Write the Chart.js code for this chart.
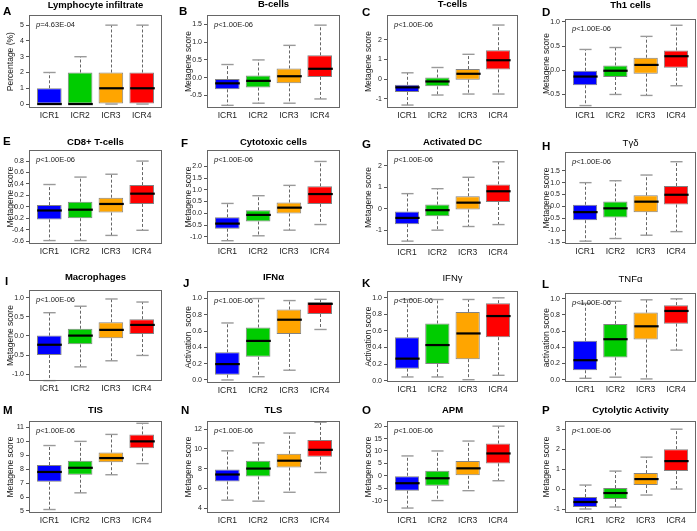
<!DOCTYPE html>
<html>
<head>
<meta charset="utf-8">
<script src="https://cdn.jsdelivr.net/npm/chart.js@4.4.1/dist/chart.umd.min.js"></script>
<style>
  body { margin: 0; background: #fff; font-family: "Liberation Sans", Arial, sans-serif; }
  #page { position: relative; width: 697px; height: 531px; overflow: hidden; }
  canvas { position: absolute; }
  .letter { position: absolute; font-weight: bold; font-size: 11.5px; line-height: 13px; color: #000; }
  .title { position: absolute; text-align: center; font-weight: bold; font-size: 9.5px; line-height: 12px; color: #000; white-space: nowrap; }
  .title.plain { font-weight: normal; }
  .pval { position: absolute; font-size: 7.5px; line-height: 9px; color: #222; white-space: nowrap; }
</style>
</head>
<body>
<div id="page"></div>
<script>
// groups on the x axis
var groups = ['ICR1', 'ICR2', 'ICR3', 'ICR4'];
var boxColors = ['#0000FF', '#00CC00', '#FFA500', '#FF0000'];

// each row: [lower whisker, Q1, median, Q3, upper whisker] for ICR1..ICR4
var lymphocyteInfiltrate = [[0, 0, 0, 1, 2], [0, 0, 0, 2, 3], [0, 0, 1, 2, 5], [0, 0, 1, 2, 5]];
var bCells = [[-0.78, -0.33, -0.16, -0.04, 0.37], [-0.72, -0.28, -0.09, 0.06, 0.5], [-0.72, -0.16, 0.04, 0.26, 0.91], [-0.6, 0.02, 0.25, 0.63, 1.48]];
var tCells = [[-1.32, -0.66, -0.42, -0.29, 0.32], [-0.81, -0.37, -0.12, 0.08, 0.59], [-0.76, -0.03, 0.27, 0.51, 1.26], [-0.76, 0.49, 0.96, 1.47, 2.75]];
var th1Cells = [[-0.73, -0.31, -0.13, -0.01, 0.43], [-0.5, -0.14, -0.01, 0.1, 0.47], [-0.52, -0.07, 0.11, 0.26, 0.7], [-0.32, 0.05, 0.29, 0.41, 0.93]];
var cd8TCells = [[-0.59, -0.22, -0.064, 0.03, 0.39], [-0.59, -0.2, -0.05, 0.09, 0.52], [-0.5, -0.1, 0.05, 0.16, 0.57], [-0.41, 0.05, 0.23, 0.38, 0.8]];
var cytotoxicCells = [[-1.17, -0.66, -0.44, -0.17, 0.42], [-0.96, -0.35, -0.07, 0.13, 0.75], [-0.72, -0.01, 0.24, 0.46, 1.19], [-0.48, 0.4, 0.82, 1.15, 2.21]];
var activatedDC = [[-1.5, -0.71, -0.42, -0.12, 0.71], [-0.99, -0.34, -0.06, 0.2, 0.94], [-0.82, -0.03, 0.29, 0.59, 1.47], [-0.73, 0.32, 0.82, 1.14, 2.19]];
var tGammaDelta = [[-1.46, -0.58, -0.24, 0.07, 1.0], [-1.35, -0.47, -0.08, 0.21, 1.08], [-1.21, -0.24, 0.2, 0.47, 1.32], [-1.06, 0.08, 0.49, 0.86, 1.88]];
var macrophages = [[-1.17, -0.5, -0.23, 0.01, 0.61], [-0.81, -0.22, 0.01, 0.19, 0.78], [-0.65, -0.06, 0.16, 0.36, 0.97], [-0.51, 0.05, 0.29, 0.44, 0.89]];
var ifnAlpha = [[0, 0.065, 0.195, 0.34, 0.7], [0.04, 0.285, 0.48, 0.645, 1.0], [0.12, 0.565, 0.74, 0.865, 0.975], [0.62, 0.81, 0.935, 0.955, 0.99]];
var ifnGamma = [[0.045, 0.145, 0.266, 0.525, 0.98], [0.045, 0.2, 0.43, 0.69, 0.98], [0.012, 0.26, 0.57, 0.83, 0.98], [0.065, 0.525, 0.78, 0.935, 1.0]];
var tnfAlpha = [[0.016, 0.115, 0.24, 0.48, 0.945], [0.03, 0.275, 0.5, 0.69, 0.97], [0.008, 0.496, 0.66, 0.83, 0.988], [0.365, 0.693, 0.85, 0.922, 1.0]];
var tis = [[5.1, 7.1, 7.8, 8.3, 9.7], [6.3, 7.6, 8.1, 8.6, 10.0], [7.6, 8.5, 8.8, 9.2, 10.5], [8.4, 9.5, 10.0, 10.5, 11.3]];
var tls = [[4.8, 6.7, 7.4, 7.9, 9.8], [4.7, 7.2, 8.0, 8.8, 10.6], [5.6, 8.1, 8.8, 9.5, 11.6], [7.6, 9.2, 9.9, 10.9, 12.7]];
var apm = [[-13, -6, -3, 0, 8], [-10, -4, -1, 2, 10], [-6, 0, 3, 6, 14], [-2, 5, 9, 13, 20]];
var cytolyticActivity = [[-1.0, -0.9, -0.65, -0.4, 0.2], [-0.9, -0.5, -0.2, 0.05, 0.9], [-0.3, 0.2, 0.5, 0.8, 1.6], [0, 0.9, 1.4, 2.0, 3.0]];

var panelStats = [lymphocyteInfiltrate, bCells, tCells, th1Cells, cd8TCells, cytotoxicCells, activatedDC, tGammaDelta,
                  macrophages, ifnAlpha, ifnGamma, tnfAlpha, tis, tls, apm, cytolyticActivity];

var letters = ['A', 'B', 'C', 'D', 'E', 'F', 'G', 'H', 'I', 'J', 'K', 'L', 'M', 'N', 'O', 'P'];
var titles = ['Lymphocyte infiltrate', 'B-cells', 'T-cells', 'Th1 cells', 'CD8+ T-cells', 'Cytotoxic cells', 'Activated DC', 'Tγδ',
              'Macrophages', 'IFNα', 'IFNγ', 'TNFα', 'TIS', 'TLS', 'APM', 'Cytolytic Activity'];
var yTitles = ['Percentage (%)', 'Metagene score', 'Metagene score', 'Metagene score', 'Metagene score', 'Metagene score',
               'Metagene score', 'Metagene score', 'Metagene score', 'Activation  score', 'Activation score', 'activation score',
               'Metagene score', 'Metagene score', 'Metagene score', 'Metagene score'];
var pValues = ['p=4.63E-04', 'p<1.00E-06', 'p<1.00E-06', 'p<1.00E-06', 'p<1.00E-06', 'p<1.00E-06', 'p<1.00E-06', 'p<1.00E-06',
               'p<1.00E-06', 'p<1.00E-06', 'p<1.00E-06', 'p<1.00E-06', 'p<1.00E-06', 'p<1.00E-06', 'p<1.00E-06', 'p<1.00E-06'];

// y tick labels per panel
var yTickLabels = [
  ['0', '1', '2', '3', '4', '5'],
  ['-0.5', '0.0', '0.5', '1.0', '1.5'],
  ['-1', '0', '1', '2'],
  ['-0.5', '0.0', '0.5', '1.0'],
  ['-0.6', '-0.4', '-0.2', '0.0', '0.2', '0.4', '0.6', '0.8'],
  ['-1.0', '-0.5', '0.0', '0.5', '1.0', '1.5', '2.0'],
  ['-1', '0', '1', '2'],
  ['-1.5', '-1.0', '-0.5', '0.0', '0.5', '1.0', '1.5'],
  ['-1.0', '-0.5', '0.0', '0.5', '1.0'],
  ['0.0', '0.2', '0.4', '0.6', '0.8', '1.0'],
  ['0.0', '0.2', '0.4', '0.6', '0.8', '1.0'],
  ['0.0', '0.2', '0.4', '0.6', '0.8', '1.0'],
  ['5', '6', '7', '8', '9', '10', '11'],
  ['4', '6', '8', '10', '12'],
  ['-10', '-5', '0', '5', '10', '15', '20'],
  ['-1', '0', '1', '2', '3']
];
// y axis range per panel [min, max]
var yRanges = [[-0.25, 5.63], [-0.855, 1.76], [-1.47, 3.25], [-0.78, 1.055], [-0.65, 0.99], [-1.31, 2.69], [-1.68, 2.73], [-1.58, 2.28],
               [-1.18, 1.2], [-0.037, 1.09], [-0.016, 1.08], [-0.03, 1.07], [4.85, 11.45], [3.5, 12.8], [-15, 22], [-1.2, 3.4]];

// layout: plot frame [left, top, width, height] per panel, title centre y, letter position
var frames = [
  [29, 15, 133, 93], [207, 15, 133, 93], [387, 15, 131, 93], [565, 19, 131, 89],
  [29, 150, 133, 94], [207, 150, 133, 94], [387, 150, 131, 95], [565, 152, 131, 92],
  [29, 290, 133, 91], [207, 291, 133, 92], [387, 291, 131, 91], [565, 293, 131, 89],
  [29, 421, 133, 92], [207, 421, 133, 92], [387, 421, 131, 92], [565, 421, 131, 92]
];
var titleY = [5, 4, 4, 5, 142, 142, 142, 143, 277, 277, 278, 279, 410, 410, 410, 410];
var letterPos = [[3, 5], [179, 5], [362, 6], [542, 6], [3, 135], [181, 137], [362, 138], [542, 140],
                 [5, 275], [183, 277], [362, 277], [542, 278], [3, 404], [181, 404], [362, 404], [542, 404]];
var plainTitles = ['Tγδ', 'IFNγ', 'TNFα'];

var FONT = '"Liberation Sans", Arial, sans-serif';

// whiskers, caps, medians and frame drawn on top of the floating bars
var boxParts = {
  id: 'boxParts',
  afterDatasetsDraw: function (chart) {
    var stats = chart.options.plugins.boxParts.stats;
    var y = chart.scales.y;
    var meta = chart.getDatasetMeta(0);
    var ctx = chart.ctx;
    function seg(x1, y1, x2, y2) {
      ctx.beginPath(); ctx.moveTo(x1, y1); ctx.lineTo(x2, y2); ctx.stroke();
    }
    ctx.save();
    stats.forEach(function (s, i) {
      var bar = meta.data[i];
      var cx = Math.round(bar.x) + 0.5;
      var half = bar.width / 2;
      ctx.lineWidth = 1;
      ctx.strokeStyle = '#666';
      ctx.setLineDash([3, 2]);
      if (s[4] > s[3]) seg(cx, y.getPixelForValue(s[3]), cx, y.getPixelForValue(s[4]));
      if (s[0] < s[1]) seg(cx, y.getPixelForValue(s[1]), cx, y.getPixelForValue(s[0]));
      ctx.setLineDash([]);
      ctx.strokeStyle = '#9a9a9a';
      ctx.lineWidth = 1.4;
      seg(cx - half / 2, y.getPixelForValue(s[4]), cx + half / 2, y.getPixelForValue(s[4]));
      seg(cx - half / 2, y.getPixelForValue(s[0]), cx + half / 2, y.getPixelForValue(s[0]));
      ctx.strokeStyle = '#000';
      ctx.lineWidth = 2.2;
      seg(cx - half, y.getPixelForValue(s[2]), cx + half, y.getPixelForValue(s[2]));
    });
    var a = chart.chartArea;
    ctx.strokeStyle = '#666';
    ctx.lineWidth = 1;
    ctx.strokeRect(Math.round(a.left) + 0.5, Math.round(a.top) + 0.5, Math.round(a.right - a.left) - 1, Math.round(a.bottom - a.top) - 1);
    ctx.restore();
  }
};

var page = document.getElementById('page');
var PAD_TOP = 6, AXIS_W = 29, AXIS_H = 18, PAD_RIGHT = 1;

function addDiv(cls, html, css) {
  var d = document.createElement('div');
  d.className = cls;
  d.innerHTML = html;
  for (var k in css) d.style[k] = css[k];
  page.appendChild(d);
  return d;
}

function makePanel(i) {
  var f = frames[i];
  var stats = panelStats[i];
  var tickVals = yTickLabels[i].map(parseFloat);
  var decimals = (yTickLabels[i][yTickLabels[i].length - 1].split('.')[1] || '').length;

  var canvas = document.createElement('canvas');
  canvas.width = AXIS_W + f[2] + PAD_RIGHT;
  canvas.height = PAD_TOP + f[3] + AXIS_H;
  canvas.style.left = (f[0] - AXIS_W) + 'px';
  canvas.style.top = (f[1] - PAD_TOP) + 'px';
  page.appendChild(canvas);

  new Chart(canvas, {
    type: 'bar',
    data: {
      datasets: [{
        data: stats.map(function (s, k) { return { x: k + 1, y: [s[1], s[3]] }; }),
        backgroundColor: boxColors,
        borderColor: 'rgba(90,90,90,0.75)',
        borderWidth: 1,
        borderSkipped: false,
        categoryPercentage: 1,
        barPercentage: 0.8
      }]
    },
    options: {
      responsive: false,
      animation: false,
      devicePixelRatio: 1,
      layout: { padding: { top: PAD_TOP, right: PAD_RIGHT, left: 0, bottom: 0 } },
      plugins: {
        legend: { display: false },
        tooltip: { enabled: false },
        boxParts: { stats: stats }
      },
      scales: {
        x: {
          type: 'linear',
          min: 0.34,
          max: 4.66,
          offset: false,
          grid: { display: false, drawTicks: false, offset: false },
          border: { display: false },
          ticks: {
            autoSkip: false,
            maxRotation: 0,
            padding: 3,
            color: '#222',
            font: { family: FONT, size: 8.5 },
            callback: function (v) { return groups[v - 1]; }
          },
          afterBuildTicks: function (scale) {
            scale.ticks = groups.map(function (g, k) { return { value: k + 1 }; });
          },
          afterFit: function (scale) { scale.height = AXIS_H; }
        },
        y: {
          min: yRanges[i][0],
          max: yRanges[i][1],
          grid: { drawOnChartArea: false, drawTicks: true, tickLength: 3, color: '#555' },
          border: { display: false },
          ticks: {
            autoSkip: false,
            padding: 2,
            color: '#222',
            font: { family: FONT, size: 7 },
            callback: function (v) { return v.toFixed(decimals); }
          },
          title: {
            display: true,
            text: yTitles[i],
            color: '#222',
            font: { family: FONT, size: 8.5 },
            padding: { top: 6, bottom: 0 }
          },
          afterBuildTicks: function (scale) {
            scale.ticks = tickVals.map(function (v) { return { value: v }; });
          },
          afterFit: function (scale) { scale.width = AXIS_W; }
        }
      }
    },
    plugins: [boxParts]
  });

  addDiv('letter', letters[i], { left: letterPos[i][0] + 'px', top: letterPos[i][1] + 'px' });
  addDiv('title' + (plainTitles.indexOf(titles[i]) >= 0 ? ' plain' : ''), titles[i],
         { left: f[0] + 'px', width: f[2] + 'px', top: (titleY[i] - 6) + 'px' });
  addDiv('pval', '<i>p</i>' + pValues[i].slice(1), { left: (f[0] + 7) + 'px', top: (f[1] + 5) + 'px' });
}

for (var i = 0; i < panelStats.length; i++) makePanel(i);
</script>
</body>
</html>
